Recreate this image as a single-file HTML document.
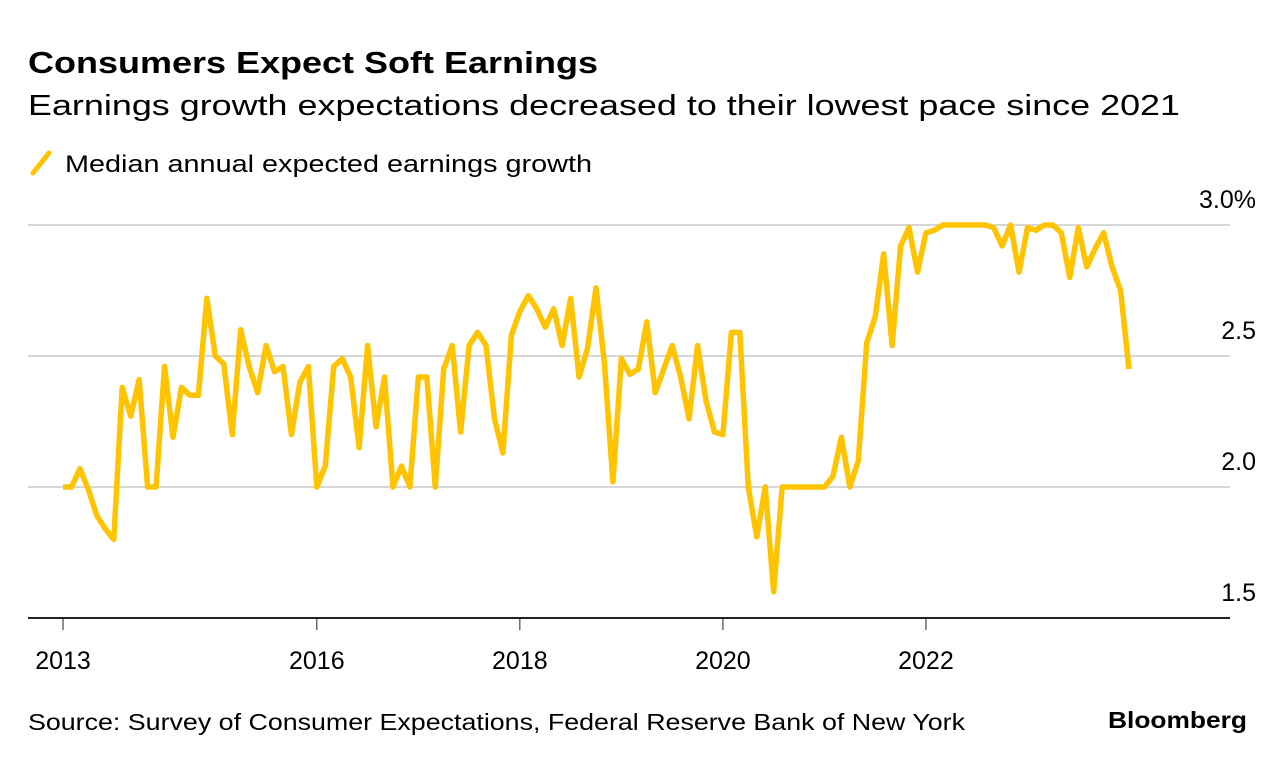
<!DOCTYPE html>
<html><head><meta charset="utf-8">
<style>
body{margin:0;background:#fff;width:1285px;height:764px;overflow:hidden;font-family:"Liberation Sans",sans-serif;}
svg{position:absolute;left:0;top:0;}
</style></head>
<body>
<svg id="chart" width="1285" height="764">
<text x="28" y="73" font-size="31" font-weight="bold" fill="#000" textLength="570" lengthAdjust="spacingAndGlyphs">Consumers Expect Soft Earnings</text>
<text x="28" y="115" font-size="29" fill="#000" textLength="1152" lengthAdjust="spacingAndGlyphs">Earnings growth expectations decreased to their lowest pace since 2021</text>
<g>
<line x1="33" y1="173" x2="49" y2="153" stroke="#ffc300" stroke-width="5" stroke-linecap="round"/>
<text x="65" y="172" font-size="24" fill="#000" textLength="527" lengthAdjust="spacingAndGlyphs">Median annual expected earnings growth</text>
</g>
<g id="grid"></g>
<g id="xaxis"></g>
<g id="series"></g>
<text x="28" y="730" font-size="23" fill="#000" textLength="937" lengthAdjust="spacingAndGlyphs">Source: Survey of Consumer Expectations, Federal Reserve Bank of New York</text>
<text x="1108" y="728" font-size="23" font-weight="bold" fill="#000" textLength="139" lengthAdjust="spacingAndGlyphs">Bloomberg</text>
</svg>
<script>
const values = [2.0,2.0,2.07,1.99,1.89,1.84,1.80,2.38,2.27,2.41,2.0,2.0,2.46,2.19,2.38,2.35,2.35,2.72,2.5,2.47,2.2,2.6,2.46,2.36,2.54,2.44,2.46,2.2,2.4,2.46,2.0,2.08,2.46,2.49,2.42,2.15,2.54,2.23,2.42,2.0,2.08,2.0,2.42,2.42,2.0,2.45,2.54,2.21,2.54,2.59,2.54,2.26,2.13,2.58,2.67,2.73,2.68,2.61,2.68,2.54,2.72,2.42,2.53,2.76,2.47,2.02,2.49,2.43,2.45,2.63,2.36,2.45,2.54,2.42,2.26,2.54,2.33,2.21,2.2,2.59,2.59,2.0,1.81,2.0,1.6,2.0,2.0,2.0,2.0,2.0,2.0,2.04,2.19,2.0,2.1,2.55,2.65,2.89,2.54,2.92,2.99,2.82,2.97,2.98,3.0,3.0,3.0,3.0,3.0,3.0,2.99,2.92,3.0,2.82,2.99,2.98,3.0,3.0,2.97,2.8,2.99,2.84,2.91,2.97,2.84,2.75,2.45];
const yTicks = [3.0,2.5,2.0,1.5];
const yTickLabels = ["3.0%","2.5","2.0","1.5"];
const xTickIndex = [0,30,54,78,102];
const xTickLabels = ["2013","2016","2018","2020","2022"];

const NS="http://www.w3.org/2000/svg";
function xS(i){return 63 + i*(1129-63)/126;}
function yS(v){return 225 + (3.0-v)*262;}
function mk(tag,attrs,parent){const e=document.createElementNS(NS,tag);for(const k in attrs)e.setAttribute(k,attrs[k]);parent.appendChild(e);return e;}
const grid=document.getElementById('grid');
yTicks.forEach((v,k)=>{
  if(v>1.5){
    const l=mk('line',{x1:28,x2:1230,y1:yS(v),y2:yS(v),stroke:'#d6d6d6','stroke-width':2},grid);
    
    
  }
  const t=mk('text',{x:1256,y:yS(v)-17,'font-size':25,'text-anchor':'end',fill:'#000'},grid);
  t.textContent=yTickLabels[k];
  
  
});
const xa=document.getElementById('xaxis');
const ax=mk('line',{x1:28,x2:1230,y1:618,y2:618,stroke:'#222','stroke-width':2},xa);


xTickIndex.forEach((idx,k)=>{
  const x=xS(idx);
  const tk=mk('line',{x1:x,x2:x,y1:618,y2:630,stroke:'#222','stroke-width':1},xa);
  
  
  const t=mk('text',{x:x,y:669,'font-size':25,'text-anchor':'middle',fill:'#000'},xa);
  t.textContent=xTickLabels[k];
  
  
});
const s=document.getElementById('series');
const p=mk('polyline',{points:values.map((v,i)=>xS(i)+','+yS(v)).join(' '),fill:'none',stroke:'#ffc300','stroke-width':5.5,'stroke-linejoin':'round'},s);


</script>
</body></html>
